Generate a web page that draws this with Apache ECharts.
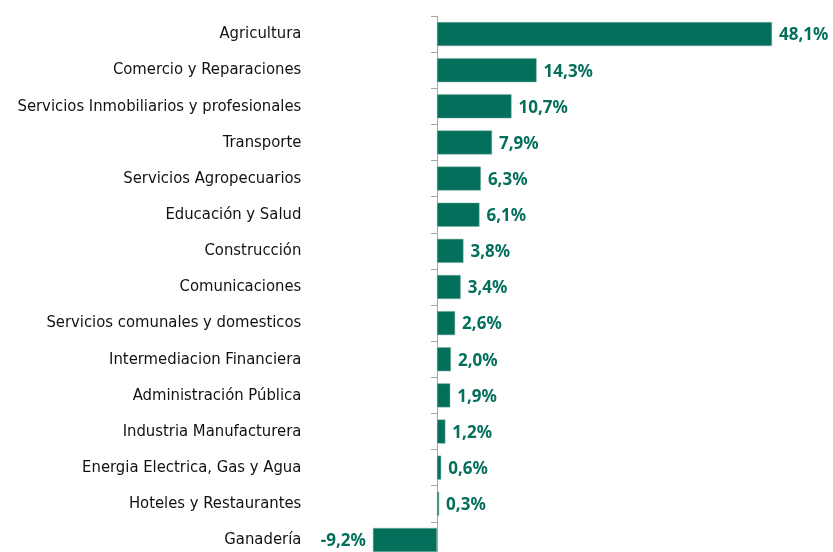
<!DOCTYPE html>
<html>
<head>
<meta charset="utf-8">
<script src="https://cdn.jsdelivr.net/npm/echarts@6/dist/echarts.min.js"></script>
<style>
  html, body { margin: 0; padding: 0; background: #fff; }
  #chart { width: 833px; height: 552px; }
</style>
</head>
<body>
<div id="chart"></div>
<script>
// sectores, de arriba hacia abajo
const categories = [
  'Agricultura',
  'Comercio y Reparaciones',
  'Servicios Inmobiliarios y profesionales',
  'Transporte',
  'Servicios Agropecuarios',
  'Educación y Salud',
  'Construcción',
  'Comunicaciones',
  'Servicios comunales y domesticos',
  'Intermediacion Financiera',
  'Administración Pública',
  'Industria Manufacturera',
  'Energia Electrica, Gas y Agua',
  'Hoteles y Restaurantes',
  'Ganadería'
];
const values = [48.1, 14.3, 10.7, 7.9, 6.3, 6.1, 3.8, 3.4, 2.6, 2.0, 1.9, 1.2, 0.6, 0.3, -9.2];

const green = '#046f5b';
const fontCond = '"DejaVu Sans Condensed", "Liberation Sans Narrow", Roboto, sans-serif';

const chart = echarts.init(document.getElementById('chart'));
chart.setOption({
  animation: false,
  grid: {
    left: 367.35,
    right: 47.75,
    top: 16,
    bottom: -6,
    outerBoundsMode: 'none',
    containLabel: false
  },
  xAxis: {
    type: 'value',
    min: -10,
    max: 50,
    show: false
  },
  yAxis: {
    type: 'category',
    inverse: true,
    data: categories,
    axisLine: {
      onZero: true,
      lineStyle: { color: '#a6a6a6', width: 1 }
    },
    axisTick: {
      show: true,
      length: 6,
      lineStyle: { color: '#a6a6a6' }
    },
    axisLabel: {
      margin: 66,
      color: '#111',
      fontSize: 16.5,
      fontFamily: fontCond
    }
  },
  series: [{
    type: 'bar',
    barWidth: 24,
    data: values.map(v => ({
      value: v,
      label: { position: v < 0 ? 'left' : 'right' }
    })),
    itemStyle: {
      color: green,
      borderColor: '#7fb3a6',
      borderWidth: 0.5
    },
    label: {
      show: true,
      distance: 7,
      offset: [0, 1.5],
      color: green,
      fontSize: 17,
      fontWeight: 'bold',
      fontFamily: '"Noto Sans", "Open Sans", sans-serif',
      formatter: p => p.value.toFixed(1).replace('.', ',') + '%'
    }
  }]
});
</script>
</body>
</html>
